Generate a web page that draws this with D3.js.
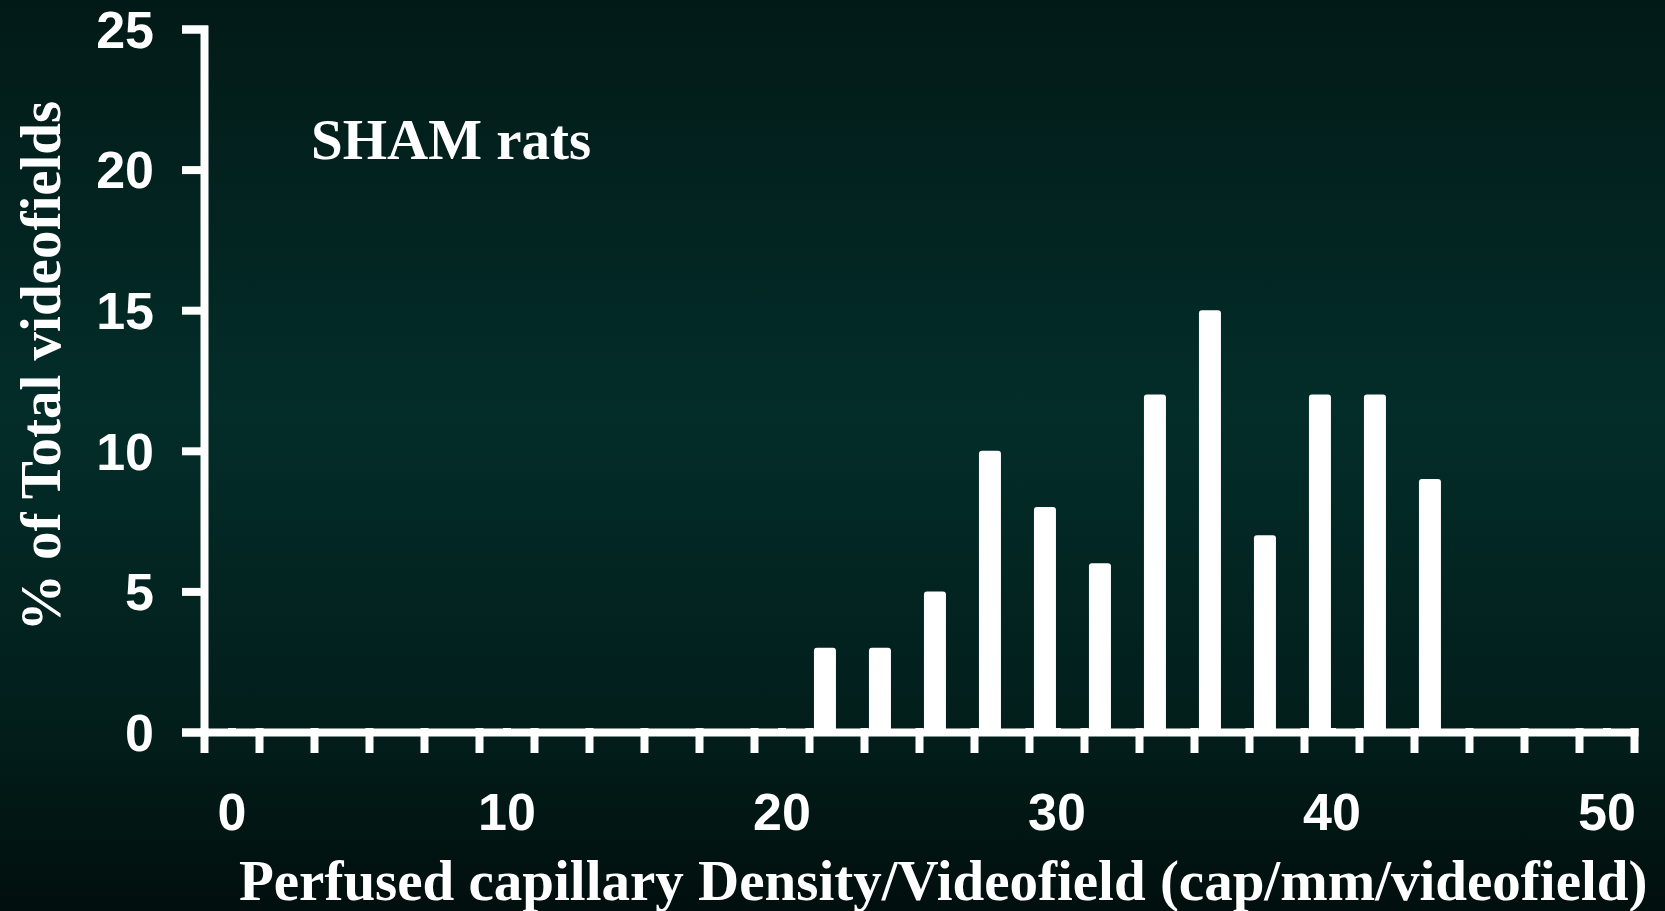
<!DOCTYPE html>
<html>
<head>
	<meta charset="utf-8">
	<title>SHAM rats</title>
	<script src="https://d3js.org/d3.v7.min.js"></script>
	<style>
		html, body {
			margin: 0;
			height: 100%;
			overflow: hidden;
			background: #011512;
		}
	</style>
</head>
<body>
	<svg id="svg"></svg>
	<script>
		// histogram bins (start of each 2-unit bin) and % of videofields
		const binStarts = [21, 23, 25, 27, 29, 31, 33, 35, 37, 39, 41, 43];
		const percents = [3, 3, 5, 10, 8, 6, 12, 15, 7, 12, 12, 9];
		const yTicks = [0, 5, 10, 15, 20, 25];
		const xLabels = [0, 10, 20, 30, 40, 50];
		const xTickMarks = d3.range(-1, 52, 2);

		const width = 1665;
		const height = 911;

		const svg = d3.select("#svg")
		.attr("width", width)
		.attr("height", height);

		const grad = svg.append("defs").append("linearGradient")
		.attr("id", "bg")
		.attr("x1", 0).attr("y1", 0).attr("x2", 0).attr("y2", 1);
		grad.append("stop").attr("offset", "0").attr("stop-color", "#021a17");
		grad.append("stop").attr("offset", "0.45").attr("stop-color", "#032d29");
		grad.append("stop").attr("offset", "0.8").attr("stop-color", "#021e1b");
		grad.append("stop").attr("offset", "1").attr("stop-color", "#010f0d");

		svg.append("rect")
		.attr("width", width)
		.attr("height", height)
		.attr("fill", "url(#bg)");

		const scaleX = d3.scaleLinear()
		.domain([-1, 51])
		.range([204, 1634]);

		const scaleY = d3.scaleLinear()
		.domain([0, 25])
		.range([732, 29]);

		// bars sit just right of the left bin edge
		svg.append("g")
		.selectAll("rect")
		.data(binStarts)
		.enter()
		.append("rect")
		.attr("x", d => scaleX(d + 0.18))
		.attr("width", d => scaleX(d + 0.98) - scaleX(d + 0.18))
		.attr("y", (d, i) => scaleY(percents[i]))
		.attr("height", (d, i) => scaleY(0) - scaleY(percents[i]))
		.attr("rx", 3)
		.attr("fill", "#ffffff");

		const yAxis = svg.append("g")
		.attr("transform", `translate(${scaleX(-1)},0)`)
		.call(d3.axisLeft(scaleY).tickValues(yTicks).tickSize(18).tickPadding(32));

		const xAxis = svg.append("g")
		.attr("transform", `translate(0,${scaleY(0)})`)
		.call(d3.axisBottom(scaleX).tickValues(xTickMarks).tickSize(17).tickSizeOuter(0).tickFormat(""));

		const xLab = svg.append("g")
		.attr("transform", `translate(0,${scaleY(0)})`)
		.call(d3.axisBottom(scaleX).tickValues(xLabels).tickSize(0).tickPadding(61));
		xLab.select(".domain").remove();

		svg.selectAll(".domain, .tick line")
		.attr("stroke", "#ffffff")
		.attr("stroke-width", 8)
		.attr("stroke-linecap", "square");

		svg.selectAll(".tick text")
		.attr("fill", "#ffffff")
		.style("font-family", "'Liberation Sans', Arial, sans-serif")
		.style("font-weight", "bold")
		.style("font-size", "52px");

		yAxis.selectAll(".tick text").attr("dy", "0.35em");

		svg.append("text")
		.attr("x", 311)
		.attr("y", 159)
		.attr("fill", "#ffffff")
		.style("font-family", "'Liberation Serif', 'Times New Roman', serif")
		.style("font-weight", "bold")
		.style("font-size", "57px")
		.text("SHAM rats");

		svg.append("text")
		.attr("transform", "translate(60,366) rotate(-90)")
		.attr("text-anchor", "middle")
		.attr("fill", "#ffffff")
		.style("font-family", "'Liberation Serif', 'Times New Roman', serif")
		.style("font-weight", "bold")
		.style("font-size", "57px")
		.text("% of Total videofields");

		svg.append("text")
		.attr("x", 239)
		.attr("y", 900)
		.attr("fill", "#ffffff")
		.style("font-family", "'Liberation Serif', 'Times New Roman', serif")
		.style("font-weight", "bold")
		.style("font-size", "57px")
		.text("Perfused capillary Density/Videofield (cap/mm/videofield)");
	</script>
</body>
</html>
